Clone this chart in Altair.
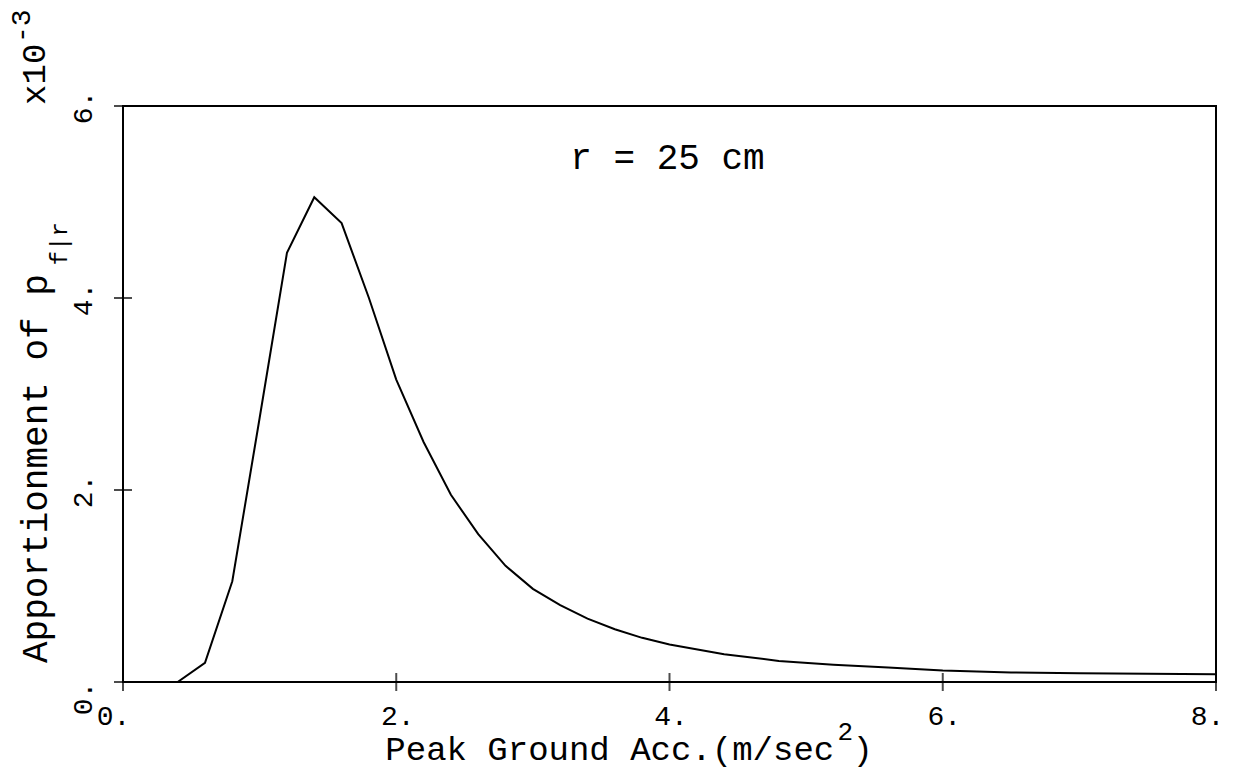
import altair as alt
import pandas as pd

# Curve values (units of 1e-3)
acc = [0.0, 0.4, 0.6, 0.8, 1.0, 1.2, 1.4, 1.6, 1.8, 2.0, 2.2, 2.4, 2.6, 2.8, 3.0,
       3.2, 3.4, 3.6, 3.8, 4.0, 4.4, 4.8, 5.2, 5.6, 6.0, 6.5, 7.0, 7.5, 8.0]
apport = [0.0, 0.0, 0.2, 1.05, 2.75, 4.47, 5.05, 4.78, 4.0, 3.15, 2.5, 1.95, 1.54, 1.21, 0.97,
          0.8, 0.66, 0.55, 0.46, 0.39, 0.29, 0.22, 0.18, 0.15, 0.12, 0.1, 0.09, 0.085, 0.08]

x_ticks = [0, 2, 4, 6, 8]
y_ticks = [0, 2, 4, 6]

# annotation texts and their anchor positions in data units
ann_text = ["r = 25 cm"]
ann_x = [3.985]
ann_y = [5.46]

xtitle_parts = ["Peak Ground Acc.(m/sec", "2", ")"]
xtitle_x = [1.92, 5.23, 5.34]
xtitle_y = [-0.8125, -0.60, -0.8125]
xtitle_size = [34, 26, 34]

ytitle_parts = ["Apportionment of p", "f|r"]
ytitle_x = [-0.557, -0.41]
ytitle_y = [0.198, 4.34]
ytitle_size = [36, 24]

exp_parts = ["x10", "-3"]
exp_x = [-0.645, -0.74]
exp_y = [6.33, 6.83]

FONT = "Liberation Mono"

xs = alt.Scale(domain=[0, 8], nice=False, zero=False)
ys = alt.Scale(domain=[0, 6], nice=False, zero=False)

x_axis = alt.Axis(
    values=x_ticks, labelExpr="datum.value + '.'", title=None, domain=False,
    ticks=False, grid=False, labelFont=FONT, labelFontSize=28, labelColor="black",
    labelPadding=20, labelFlush=False, labelBaseline="top", labelAngle=0,
    labelOffset={"condition": [{"test": "datum.value == 0", "value": -10},
                               {"test": "datum.value == 8", "value": -9}],
                 "value": 1})
y_axis = alt.Axis(
    values=y_ticks, labelExpr="datum.value + '.'", title=None, domain=False,
    ticks=False, grid=False, labelFont=FONT, labelFontSize=28, labelColor="black",
    labelAngle=270, labelAlign="center", labelBaseline="bottom", labelPadding=26,
    labelFlush=False,
    labelOffset={"condition": {"test": "datum.value == 0", "value": 16}, "value": 1})

df = pd.DataFrame({"x": acc, "y": apport})

curve = alt.Chart(df).mark_line(color="black", strokeWidth=2).encode(
    x=alt.X("x:Q", scale=xs, axis=x_axis),
    y=alt.Y("y:Q", scale=ys, axis=y_axis),
)

xt = pd.DataFrame({"x": x_ticks, "y": [0] * len(x_ticks)})
yt = pd.DataFrame({"x": [0] * len(y_ticks), "y": y_ticks})

xtick_layer = alt.Chart(xt).mark_tick(orient="vertical", size=18, thickness=2, color="black").encode(
    x=alt.X("x:Q", scale=xs, axis=x_axis), y=alt.Y("y:Q", scale=ys, axis=y_axis))
ytick_layer = alt.Chart(yt).mark_tick(orient="horizontal", size=18, thickness=2, color="black").encode(
    x=alt.X("x:Q", scale=xs, axis=x_axis), y=alt.Y("y:Q", scale=ys, axis=y_axis))


def text_layer(texts, xv, yv, sizes, angle, align, baseline):
    d = pd.DataFrame({"t": texts, "x": xv, "y": yv, "s": sizes})
    return alt.Chart(d).mark_text(font=FONT, angle=angle, align=align, baseline=baseline,
                                  color="black").encode(
        x=alt.X("x:Q", scale=xs, axis=x_axis),
        y=alt.Y("y:Q", scale=ys, axis=y_axis),
        text="t:N",
        size=alt.Size("s:Q", scale=None, legend=None),
    )


r_label = text_layer(ann_text, ann_x, ann_y, [36], 0, "center", "middle")
xtitle = text_layer(xtitle_parts, xtitle_x, xtitle_y, xtitle_size, 0, "left", "alphabetic")
ytitle = text_layer(ytitle_parts, ytitle_x, ytitle_y, ytitle_size, 270, "left", "alphabetic")
expo = text_layer(exp_parts, exp_x, exp_y, [34, 28], 270, "center", "middle")

chart = alt.layer(curve, xtick_layer, ytick_layer, r_label, xtitle, ytitle, expo).properties(
    width=1093, height=576,
    padding={"left": 115, "top": 98, "right": 11, "bottom": 92},
    autosize=alt.AutoSizeParams(type="none"),
    background="white",
).configure_view(stroke="black", strokeWidth=2)

chart.save("out.html", embed_options={"renderer": "svg", "actions": False})
